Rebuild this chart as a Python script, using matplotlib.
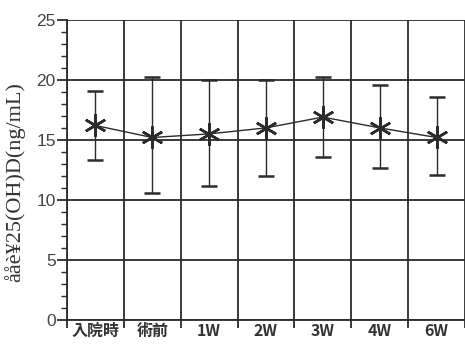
import matplotlib
matplotlib.use('Agg')
import matplotlib.pyplot as plt
import numpy as np

# 25(OH)D values
periods = ['入院時', '術前', '1W', '2W', '3W', '4W', '6W']
mean_vals = [16.2, 15.2, 15.5, 16.0, 16.9, 16.0, 15.2]
upper_vals = [19.1, 20.2, 20.0, 20.0, 20.2, 19.6, 18.6]
lower_vals = [13.3, 10.6, 11.2, 12.0, 13.6, 12.7, 12.1]
y_ticks = [0, 5, 10, 15, 20, 25]

ink = '#2b2b2b'

fig = plt.figure(figsize=(4.65, 3.45), dpi=100)
ax = fig.add_axes([0.144, 0.0725, 0.856, 0.87])

x = np.arange(len(periods))
mean = np.array(mean_vals)
yerr = [mean - np.array(lower_vals), np.array(upper_vals) - mean]

ax.errorbar(x, mean, yerr=yerr, color=ink, lw=1.0, elinewidth=1.0,
            capsize=6, capthick=1.0, marker=(6, 2, 0), markersize=16,
            markeredgewidth=1.8, zorder=3)

ax.set_xlim(-0.5, 6.5)
ax.set_ylim(0, 25)

# boundaries as major ticks (grid), labels on the centres
ax.set_xticks(np.arange(-0.5, 6.6, 1.0))
ax.set_xticklabels([])
ax.set_xticks(x, minor=True)
ax.set_xticklabels(periods, minor=True, family=['Noto Sans CJK JP', 'DejaVu Sans'],
                   fontsize=11.5, fontweight='bold', color='#333333')
ax.tick_params(axis='x', which='major', direction='out', length=6, width=1.3, color=ink)
ax.tick_params(axis='x', which='minor', length=0, pad=2)

ax.set_yticks(y_ticks)
ax.set_yticks(np.arange(0, 26, 1), minor=True)
ax.set_yticklabels([str(v) for v in y_ticks], family='Liberation Sans',
                   fontsize=12.5, color='#444444')
ax.tick_params(axis='y', which='major', direction='out', length=7, width=1.3,
               color=ink, pad=1)
ax.tick_params(axis='y', which='minor', direction='out', length=4, width=1.0, color=ink)

ax.grid(True, which='major', color=ink, lw=1.3)
ax.set_axisbelow(True)

for side in ['top', 'right']:
    ax.spines[side].set_visible(False)
for side in ['left', 'bottom']:
    ax.spines[side].set_color(ink)
    ax.spines[side].set_linewidth(1.3)

ax.set_ylabel('ååè¥25(OH)D(ng/mL)', family='Liberation Serif', fontsize=16,
              color='#333333')
ax.yaxis.set_label_coords(-0.105, 0.46)

fig.savefig('out.png', dpi=100)
